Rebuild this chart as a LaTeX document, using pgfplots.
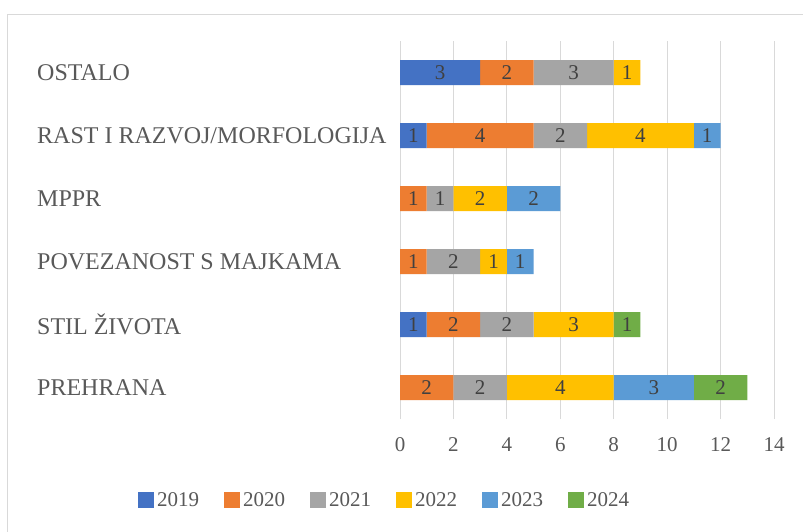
\documentclass[border=0pt]{standalone}
\usepackage{fontspec}
\setmainfont{Liberation Serif}
\usepackage{pgfplots}
\pgfplotsset{compat=1.18}
\definecolor{c19}{HTML}{4472C4}
\definecolor{c20}{HTML}{ED7D31}
\definecolor{c21}{HTML}{A5A5A5}
\definecolor{c22}{HTML}{FFC000}
\definecolor{c23}{HTML}{5B9BD5}
\definecolor{c24}{HTML}{70AD47}
\definecolor{txt}{HTML}{595959}
\definecolor{lbl}{HTML}{404040}
\definecolor{gridc}{HTML}{D9D9D9}
\begin{document}
\begin{tikzpicture}
\useasboundingbox (0,0) rectangle (803bp,-532bp);
\fill[white] (0,0) rectangle (803bp,-532bp);
\draw[color=gridc, line width=1bp] (7.5bp,-532bp) -- (7.5bp,-14.5bp) -- (803bp,-14.5bp);
\begin{axis}[
  at={(400bp,-419bp)}, anchor=south west,
  scale only axis, width=374bp, height=378bp,
  xbar stacked, bar width=25bp,
  xmin=0, xmax=14, ymin=-0.5, ymax=5.5,
  xtick={0,2,...,14}, ytick={0,...,5},
  yticklabels={PREHRANA, STIL ŽIVOTA, POVEZANOST S MAJKAMA, MPPR, RAST I RAZVOJ/MORFOLOGIJA, OSTALO},
  axis line style={draw=none}, major tick length=0pt,
  xmajorgrids, grid style={color=gridc, line width=1bp},
  /pgf/number format/assume math mode=true,
  xticklabel style={font=\fontsize{21bp}{25bp}\selectfont, text=txt, yshift=-15bp},
  yticklabel style={font=\fontsize{24bp}{28bp}\selectfont, text=txt, anchor=west, inner sep=0pt, xshift=-363bp},
  visualization depends on={rawx \as \rawx},
  nodes near coords={\pgfmathtruncatemacro\v{\rawx}\ifnum\v=0 \else\v\fi},
  every node near coord/.append style={anchor=center, text=lbl, font=\fontsize{21bp}{25bp}\selectfont},
  legend image code/.code={\fill[#1] (0bp,-8bp) rectangle (16bp,8bp);},
  legend columns=6,
  legend style={draw=none, fill=none, at={(-0.04,-0.214)}, anchor=center,
    font=\fontsize{21bp}{25bp}\selectfont, text=txt,
    /tikz/every even column/.append style={column sep=22bp},
    nodes={inner xsep=3bp}},
]
\addplot[fill=c19, draw=none] coordinates {(0,0) (1,1) (0,2) (0,3) (1,4) (3,5)};
\addplot[fill=c20, draw=none] coordinates {(2,0) (2,1) (1,2) (1,3) (4,4) (2,5)};
\addplot[fill=c21, draw=none] coordinates {(2,0) (2,1) (2,2) (1,3) (2,4) (3,5)};
\addplot[fill=c22, draw=none] coordinates {(4,0) (3,1) (1,2) (2,3) (4,4) (1,5)};
\addplot[fill=c23, draw=none] coordinates {(3,0) (0,1) (1,2) (2,3) (1,4) (0,5)};
\addplot[fill=c24, draw=none] coordinates {(2,0) (1,1) (0,2) (0,3) (0,4) (0,5)};
\legend{2019,2020,2021,2022,2023,2024}
\end{axis}
\end{tikzpicture}
\end{document}
